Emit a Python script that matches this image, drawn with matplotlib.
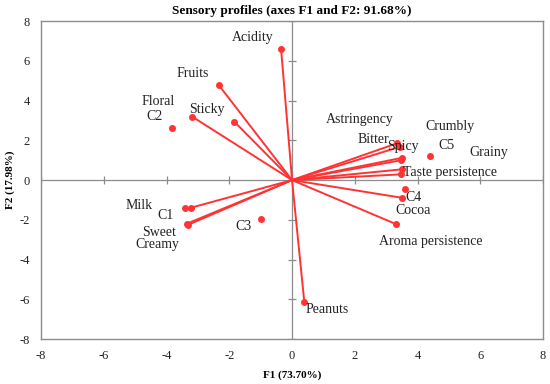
import matplotlib.pyplot as plt
import numpy as np

plt.rcParams['font.family'] = 'Liberation Serif'
plt.rcParams['axes.unicode_minus'] = False

# variables (drawn as vectors from the origin)
var_names = ['Acidity', 'Fruits', 'Floral', 'Sticky', 'Astringency', 'Bitter', 'Spicy',
             'Crumbly', 'Grainy', 'Taste persistence', 'Cocoa', 'Aroma persistence',
             'Peanuts', 'Milk', 'Sweet', 'Creamy']
var_f1 = [-0.35, -2.34, -3.18, -1.84, 3.34, 3.45, 3.50, 3.48, 3.50, 3.48, 3.50, 3.32,
          0.39, -3.22, -3.36, -3.33]
var_f2 = [6.60, 4.79, 3.19, 2.94, 1.85, 1.68, 1.12, 1.00, 0.54, 0.29, -0.89, -2.22,
          -6.13, -1.39, -2.20, -2.26]

# observations (points only)
obs_names = ['C1', 'C2', 'C3', 'C4', 'C5']
obs_f1 = [-3.40, -3.84, -1.00, 3.61, 4.40]
obs_f2 = [-1.39, 2.63, -1.95, -0.47, 1.22]

# where the labels sit (text centres)
var_label_xy = [(-1.25, 7.17), (-3.18, 5.34), (-4.26, 3.98), (-2.70, 3.53), (2.15, 3.07),
                (2.59, 2.02), (3.54, 1.71), (5.03, 2.69), (6.28, 1.39), (5.03, 0.37),
                (3.87, -1.55), (4.42, -3.10), (1.12, -6.52), (-4.87, -1.26),
                (-4.23, -2.64), (-4.28, -3.24)]
obs_label_xy = [(-4.02, -1.80), (-4.37, 3.19), (-1.54, -2.35), (3.87, -0.87), (4.92, 1.76)]

ticks = [-8, -6, -4, -2, 0, 2, 4, 6, 8]
red = '#ff3333'
grey = '#8c8c8c'

fig = plt.figure(figsize=(5.5, 3.84), dpi=100)
ax = fig.add_axes([0.0745, 0.117, 0.913, 0.828])

ax.axhline(0, color=grey, lw=0.9, zorder=1)
ax.axvline(0, color=grey, lw=0.9, zorder=1)
tk = [t for t in ticks if t != 0]
ax.plot(tk, [0] * len(tk), ls='none', marker='|', ms=6, color=grey, mew=0.9, zorder=1)
ax.plot([0] * len(tk), tk, ls='none', marker='_', ms=6, color=grey, mew=0.9, zorder=1)

for x, y in zip(var_f1, var_f2):
    ax.plot([0, x], [0, y], color=red, lw=1.4, zorder=2)
ax.plot(var_f1, var_f2, ls='none', marker='o', ms=4, color=red, zorder=3)
ax.plot(obs_f1, obs_f2, ls='none', marker='o', ms=4, color=red, zorder=3)

for name, (lx, ly) in zip(var_names, var_label_xy):
    ax.text(lx, ly, name, fontsize=10, ha='center', va='center', color='#222222')
for name, (lx, ly) in zip(obs_names, obs_label_xy):
    ax.text(lx, ly, name, fontsize=10, ha='center', va='center', color='#222222')

ax.set_xlim(-8, 8)
ax.set_ylim(-8, 8)
ax.set_xticks(ticks)
ax.set_yticks(ticks)
ax.tick_params(length=0, labelsize=9, pad=8, colors='#222222')
for s in ax.spines.values():
    s.set_color(grey)
    s.set_linewidth(1.0)

ax.set_xlabel('F1 (73.70%)', fontsize=8, fontweight='bold', labelpad=6)
ax.set_ylabel('F2 (17.98%)', fontsize=8, fontweight='bold')
ax.yaxis.set_label_coords(-0.052, 0.5)
ax.set_title('Sensory profiles (axes F1 and F2: 91.68%)', fontsize=9.5, fontweight='bold', pad=5)

fig.savefig('out.png', dpi=100)
